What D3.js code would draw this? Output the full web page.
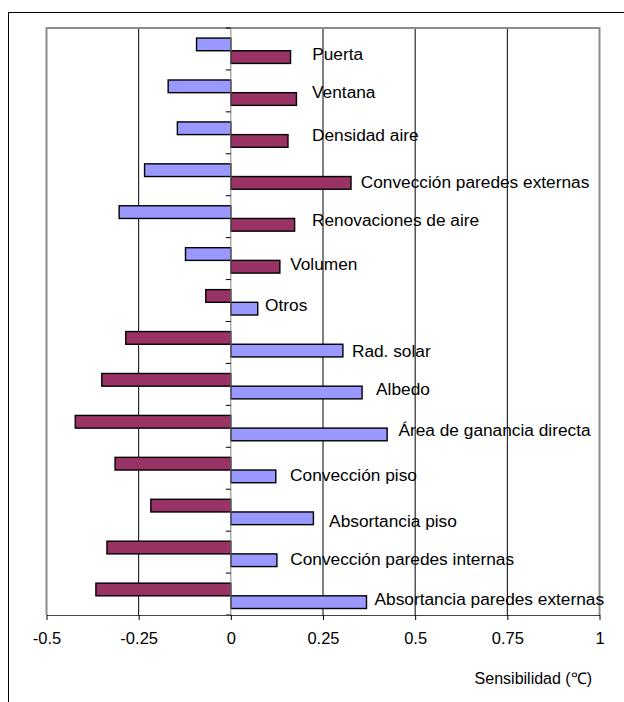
<!DOCTYPE html>
<html>
<head>
<meta charset="utf-8">
<script src="https://cdn.jsdelivr.net/npm/d3@7"></script>
<style>
  html, body { margin: 0; padding: 0; background: #fff; }
  svg { display: block; }
  text { font-family: "Liberation Sans", Arial, sans-serif; fill: #000; }
</style>
</head>
<body>
<svg id="chart" width="624" height="702"></svg>
<script>
// Sensitivity of each parameter (°C): two series per parameter
const categories = [
  "Puerta", "Ventana", "Densidad aire", "Convección paredes externas",
  "Renovaciones de aire", "Volumen", "Otros", "Rad. solar", "Albedo",
  "Área de ganancia directa", "Convección piso", "Absortancia piso",
  "Convección paredes internas", "Absortancia paredes externas"
];
const blueValues = [
  -0.093, -0.170, -0.145, -0.234, -0.303, -0.123, 0.073,
  0.304, 0.356, 0.424, 0.122, 0.224, 0.125, 0.368
];
const purpleValues = [
  0.162, 0.178, 0.155, 0.326, 0.173, 0.133, -0.068,
  -0.285, -0.350, -0.422, -0.314, -0.217, -0.336, -0.366
];
const xTickValues = [-0.5, -0.25, 0, 0.25, 0.5, 0.75, 1];
const xTickLabels = ["-0.5", "-0.25", "0", "0.25", "0.5", "0.75", "1"];
const axisTitle = "Sensibilidad (℃)";

// label placement: gap after the positive bar and vertical nudge (px)
const labelGap = [21.6, 15.6, 24, 9.7, 17.4, 10.3, 7.3, 9, 14, 11.3, 14.3, 15.7, 13.3, 8];
const labelDy  = [2.7, -0.8, 0, 5.6, 1.3, 3.4, 2.4, 6.2, 2.6, 2.3, 5.4, 8.5, 4.8, 2.9];

const colors = { blue: "#9999FF", purple: "#993366" };

const svg = d3.select("#chart");
const plot = { left: 46.5, right: 599.5, top: 28, bottom: 615 };

// outer frame (extends past the right and bottom edges)
svg.append("rect")
  .attr("x", 8.5).attr("y", 12.5)
  .attr("width", 700).attr("height", 720)
  .attr("fill", "none").attr("stroke", "#000").attr("stroke-width", 1);

const x = d3.scaleLinear().domain([-0.5, 1]).range([plot.left, plot.right]);
const y = d3.scaleBand().domain(categories).range([plot.top, plot.bottom]).paddingInner(0).paddingOuter(0);
const slot = d3.scaleBand().domain(["neg", "pos"])
  .range([y.bandwidth() * 0.24, y.bandwidth() * 0.845]);

// vertical gridlines
svg.append("g")
  .selectAll("line")
  .data(xTickValues.filter(v => v !== 0 && v !== -0.5 && v !== 1))
  .join("line")
  .attr("x1", d => x(d)).attr("x2", d => x(d))
  .attr("y1", plot.top).attr("y2", plot.bottom)
  .attr("stroke", "#000").attr("stroke-width", 1);

// plot area border (top, left, right)
svg.append("path")
  .attr("d", `M${plot.left},${plot.bottom} V${plot.top} H${plot.right} V${plot.bottom}`)
  .attr("fill", "none").attr("stroke", "#8c8c8c").attr("stroke-width", 2);

// bars
const rows = categories.map((c, i) => ({
  cat: c, i,
  bars: [
    { v: blueValues[i], color: colors.blue },
    { v: purpleValues[i], color: colors.purple }
  ]
}));

const barG = svg.append("g");
rows.forEach(r => {
  r.bars.forEach(b => {
    const s = b.v < 0 ? "neg" : "pos";
    barG.append("rect")
      .attr("x", x(Math.min(0, b.v)))
      .attr("y", y(r.cat) + slot(s))
      .attr("width", Math.abs(x(b.v) - x(0)))
      .attr("height", slot.bandwidth())
      .attr("fill", b.color)
      .attr("stroke", "#000")
      .attr("stroke-width", 1.4);
  });
});

// category axis at zero
const yAxisG = svg.append("g");
yAxisG.append("line")
  .attr("x1", x(0)).attr("x2", x(0))
  .attr("y1", plot.top).attr("y2", plot.bottom)
  .attr("stroke", "#808080").attr("stroke-width", 1);
yAxisG.selectAll("line.tick")
  .data(d3.range(categories.length + 1))
  .join("line")
  .attr("class", "tick")
  .attr("x1", x(0) - 5).attr("x2", x(0))
  .attr("y1", k => plot.top + k * y.step())
  .attr("y2", k => plot.top + k * y.step())
  .attr("stroke", "#000").attr("stroke-width", 1);

// value axis
const xAxis = d3.axisBottom(x)
  .tickValues(xTickValues)
  .tickFormat((d, i) => xTickLabels[i])
  .tickSizeInner(5).tickSizeOuter(0).tickPadding(12);
const xAxisG = svg.append("g")
  .attr("transform", `translate(0,${plot.bottom})`)
  .call(xAxis);
xAxisG.select(".domain").attr("stroke", "#444").attr("stroke-width", 1.2);
xAxisG.selectAll(".tick line").attr("stroke", "#000");
xAxisG.selectAll(".tick text")
  .style("font-family", "'Liberation Sans', Arial, sans-serif")
  .style("font-size", "16.5px")
  .attr("fill", "#000");

// category labels beside the positive bar
svg.append("g")
  .selectAll("text")
  .data(rows)
  .join("text")
  .attr("x", r => x(Math.max(blueValues[r.i], purpleValues[r.i])) + labelGap[r.i])
  .attr("y", r => y(r.cat) + slot("pos") + labelDy[r.i])
  .attr("dy", "0.35em")
  .style("font-size", "17.3px")
  .text(r => r.cat);

// axis title
svg.append("text")
  .attr("x", 592).attr("y", 684)
  .attr("text-anchor", "end")
  .style("font-size", "16px")
  .text(axisTitle);
</script>
</body>
</html>
